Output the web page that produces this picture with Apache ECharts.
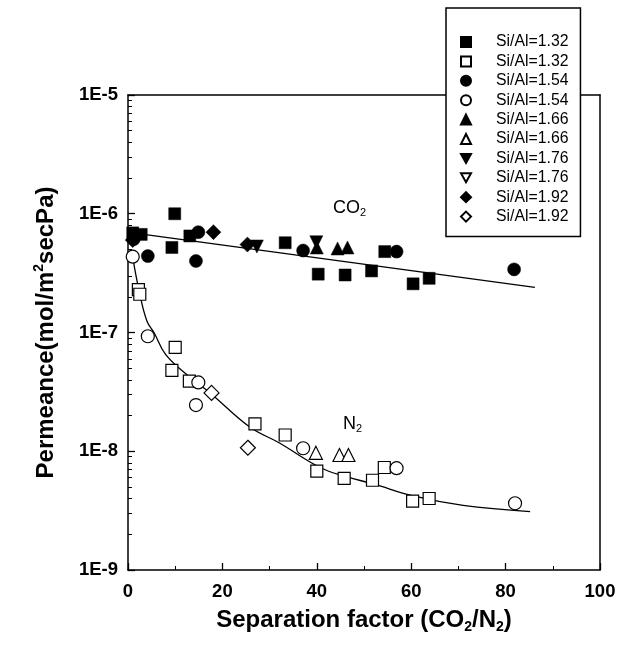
<!DOCTYPE html>
<html>
<head>
<meta charset="utf-8">
<script src="https://cdn.jsdelivr.net/npm/echarts@6/dist/echarts.min.js"></script>
<style>
  html, body { margin: 0; padding: 0; background: #fff; }
  #chart { width: 627px; height: 645px; }
</style>
</head>
<body>
<div id="chart"></div>
<script>
// x = separation factor, y = permeance (mol/m2 s Pa)
// filled symbols: CO2 permeance
const co2_132 = [[1.0, 6.9e-7], [2.8, 6.7e-7], [9.9, 1.0e-6], [9.3, 5.2e-7], [13.1, 6.5e-7], [33.3, 5.7e-7],
  [40.3, 3.1e-7], [46.0, 3.05e-7], [51.6, 3.3e-7], [54.4, 4.8e-7], [60.4, 2.57e-7], [63.8, 2.86e-7]]
const co2_154 = [[1.2, 6.1e-7], [4.2, 4.4e-7], [14.4, 4.0e-7], [14.9, 7.0e-7], [37.1, 4.9e-7], [56.9, 4.8e-7], [81.8, 3.4e-7]]
const co2_166 = [[40.0, 5.2e-7], [44.4, 5.1e-7], [46.5, 5.2e-7]]
const co2_176 = [[27.3, 5.3e-7], [39.9, 5.75e-7]]
const co2_192 = [[1.0, 6.0e-7], [18.1, 7.0e-7], [25.3, 5.5e-7]]
// open symbols: N2 permeance
const n2_132 = [[2.2, 2.3e-7], [2.5, 2.1e-7], [10.0, 7.5e-8], [9.3, 4.8e-8], [13.0, 3.9e-8], [26.9, 1.7e-8], [33.3, 1.37e-8],
  [40.0, 6.8e-9], [45.8, 5.9e-9], [51.8, 5.7e-9], [54.3, 7.3e-9], [60.3, 3.8e-9], [63.8, 4.0e-9]]
const n2_154 = [[1.0, 4.35e-7], [4.2, 9.3e-8], [14.9, 3.8e-8], [14.4, 2.45e-8], [37.1, 1.06e-8], [56.9, 7.2e-9], [82.0, 3.65e-9]]
const n2_166 = [[39.8, 9.7e-9], [44.8, 9.3e-9], [46.7, 9.3e-9]]
const n2_176 = []
const n2_192 = [[17.7, 3.1e-8], [25.4, 1.07e-8]]
// fitted curves
const co2Fit = [[1.0, 6.9e-7], [86.2, 2.4e-7]]
const n2Fit = [[1.0, 4.3e-7], [2.4, 2.2e-7], [4.0, 1.25e-7], [5.5, 1.0e-7], [8.0, 6.5e-8], [12.8, 4.3e-8], [17.4, 3.1e-8],
  [25.8, 1.6e-8], [32.0, 1.18e-8], [40.7, 7.3e-9], [46.3, 6.1e-9], [52.0, 5.3e-9], [60.4, 4.2e-9], [71.0, 3.5e-9], [85.2, 3.1e-9]]
// legend / axis labels
const ratios = ['1.32', '1.54', '1.66', '1.76', '1.92']
const xTicks = [0, 20, 40, 60, 80, 100]
const yDecades = [-9, -8, -7, -6, -5]

const FONT = "'Liberation Sans', Arial, sans-serif"
const downTri = 'path://M0,0L10,0L5,9Z'
const symbols = ['rect', 'circle', 'triangle', downTri, 'diamond']
const filledData = [co2_132, co2_154, co2_166, co2_176, co2_192]
const openData = [n2_132, n2_154, n2_166, n2_176, n2_192]
const sizes = [12, 13, 13, 13, 15]

// minor log ticks 2..9 in each decade
let minorVals = []
for (let i = 0; i < yDecades.length - 1; i++) {
  for (let k = 2; k <= 9; k++) {
    minorVals.push(k * Math.pow(10, yDecades[i]))
  }
}

let series = []
let legendNames = []
for (let i = 0; i < ratios.length; i++) {
  let nameF = 'Si/Al=' + ratios[i] + ' f'
  let nameO = 'Si/Al=' + ratios[i] + ' o'
  legendNames.push(nameF, nameO)
  series.push({
    name: nameF,
    type: 'scatter',
    symbol: symbols[i],
    symbolSize: sizes[i],
    itemStyle: { color: '#000', borderColor: '#000', borderWidth: 0.5, opacity: 1 },
    z: 3,
    data: filledData[i]
  })
  series.push({
    name: nameO,
    type: 'scatter',
    symbol: symbols[i],
    symbolSize: sizes[i],
    itemStyle: { color: '#fff', borderColor: '#000', borderWidth: 1.2, opacity: 1 },
    z: 3,
    data: openData[i]
  })
}
series.push({
  type: 'line', name: 'fitCO2', data: co2Fit, showSymbol: false, symbol: 'none', z: 2,
  lineStyle: { color: '#000', width: 1.3 }, silent: true
})
series.push({
  type: 'line', name: 'fitN2', data: n2Fit, showSymbol: false, symbol: 'none', smooth: 0.4, z: 2,
  lineStyle: { color: '#000', width: 1.3 }, silent: true
})

const titleRich = {
  a: { fontFamily: FONT, fontWeight: 'bold', fontSize: 24, color: '#000', lineHeight: 28 },
  s: { fontFamily: FONT, fontWeight: 'bold', fontSize: 14, color: '#000', lineHeight: 14, verticalAlign: 'bottom' },
  p: { fontFamily: FONT, fontWeight: 'bold', fontSize: 14, color: '#000', lineHeight: 14, verticalAlign: 'top' }
}
const labelRich = {
  a: { fontFamily: FONT, fontSize: 18, color: '#000', lineHeight: 21 },
  s: { fontFamily: FONT, fontSize: 11, color: '#000', lineHeight: 11, verticalAlign: 'bottom' }
}

const myChart = echarts.init(document.getElementById('chart'))
const options = {
  backgroundColor: '#fff',
  animation: false,
  grid: { left: 128, right: 27, top: 95, bottom: 75 },
  legend: {
    data: legendNames,
    orient: 'vertical',
    left: 446,
    top: 8,
    padding: [26, 12, 12, 14],
    itemWidth: 10,
    itemHeight: 10,
    itemGap: 3.4,
    symbolKeepAspect: true,
    backgroundColor: '#fff',
    borderColor: '#000',
    borderWidth: 1.5,
    borderRadius: 0,
    selectedMode: false,
    formatter: function (name) {
      return name.slice(0, -2)
    },
    textStyle: { fontFamily: FONT, fontSize: 15.8, color: '#000', lineHeight: 16, padding: [0, 0, 0, 20] }
  },
  graphic: [
    {
      type: 'text', left: 333, top: 199, z: 10,
      style: { text: '{a|CO}{s|2}', rich: labelRich }
    },
    {
      type: 'text', left: 343, top: 415, z: 10,
      style: { text: '{a|N}{s|2}', rich: labelRich }
    }
  ],
  xAxis: [
    {
      type: 'value',
      min: xTicks[0],
      max: xTicks[xTicks.length - 1],
      interval: 20,
      name: '{a|Separation factor (CO}{s|2}{a|/N}{s|2}{a|)}',
      nameLocation: 'middle',
      nameGap: 36,
      nameTextStyle: { rich: titleRich },
      axisLine: { onZero: false, lineStyle: { color: '#000', width: 1.5 } },
      axisTick: { inside: true, length: 7, lineStyle: { color: '#000', width: 1.3 } },
      minorTick: { show: true, splitNumber: 2, length: 4, lineStyle: { color: '#000', width: 1 } },
      splitLine: { show: false },
      axisLabel: { fontFamily: FONT, fontWeight: 'bold', fontSize: 18.5, color: '#000', margin: 12 }
    },
    {
      type: 'value', position: 'top', min: 0, max: 100,
      axisLine: { onZero: false, lineStyle: { color: '#000', width: 1.5 } },
      axisTick: { show: false }, axisLabel: { show: false }, splitLine: { show: false }
    }
  ],
  yAxis: [
    {
      type: 'log',
      logBase: 10,
      min: Math.pow(10, yDecades[0]),
      max: Math.pow(10, yDecades[yDecades.length - 1]),
      name: '{a|Permeance(mol/m}{p|2}{a|secPa)}',
      nameLocation: 'middle',
      nameGap: 68,
      nameTextStyle: { rich: titleRich },
      axisLine: { onZero: false, lineStyle: { color: '#000', width: 1.5 } },
      axisTick: { inside: true, length: 7, lineStyle: { color: '#000', width: 1.3 } },
      splitLine: { show: false },
      axisLabel: {
        fontFamily: FONT, fontWeight: 'bold', fontSize: 18.5, color: '#000', margin: 10,
        formatter: function (v) {
          return '1E' + Math.round(Math.log10(v))
        }
      }
    },
    {
      type: 'log', position: 'right', logBase: 10, min: 1e-9, max: 1e-5,
      axisLine: { onZero: false, lineStyle: { color: '#000', width: 1.5 } },
      axisTick: { show: false }, axisLabel: { show: false }, splitLine: { show: false }
    },
    {
      type: 'log', position: 'left', logBase: 10, min: 1e-9, max: 1e-5,
      axisLine: { show: false },
      axisTick: { inside: true, length: 4, customValues: minorVals, lineStyle: { color: '#000', width: 1 } },
      axisLabel: { show: false }, splitLine: { show: false }
    }
  ],
  series: series
}
myChart.setOption(options)
</script>
</body>
</html>
